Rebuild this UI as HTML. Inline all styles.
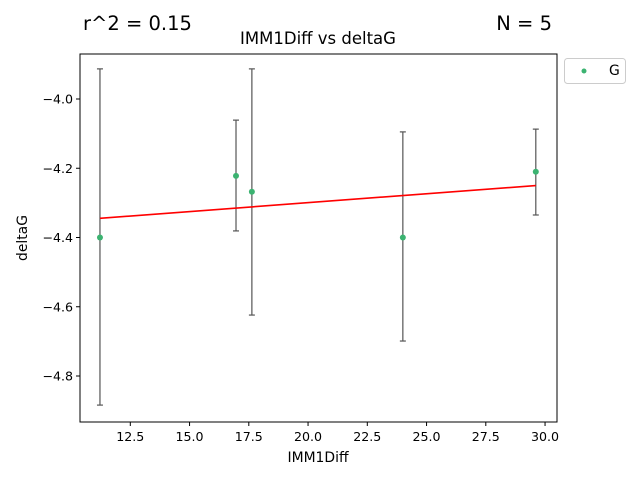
<!DOCTYPE html>
<html><head><meta charset="utf-8"><style>
body{margin:0;background:#fff;}
svg text{font-family:"DejaVu Sans","Liberation Sans",sans-serif;fill:#000;}
</style></head><body>
<svg id="chart" width="640" height="480" xmlns="http://www.w3.org/2000/svg">
<rect width="640" height="480" fill="#fff"/>
<g id="errs"></g><g id="fit"></g><g id="pts"></g>
<rect x="80" y="54" width="477" height="368" fill="none" stroke="#000" stroke-width="1"/>
<g id="xt"></g><g id="yt"></g>
<text x="318" y="44" font-size="16.5" text-anchor="middle">IMM1Diff vs deltaG</text>
<text x="83" y="30" font-size="19.5">r^2 = 0.15</text>
<text x="552" y="30" font-size="19.5" text-anchor="end">N = 5</text>
<text x="318" y="462" font-size="13.9" text-anchor="middle">IMM1Diff</text>
<text x="27" y="238" font-size="13.9" text-anchor="middle" transform="rotate(-90 27 238)">deltaG</text>
<g>
<rect x="564.5" y="58.5" width="61" height="25" rx="3" fill="#fff" stroke="#ccc"/>
<circle cx="584" cy="71" r="2.5" fill="#3cb371"/>
<text x="609" y="75" font-size="13.9">G</text>
</g>
</svg>
<script>
const xs=[11.22,16.96,17.63,24.0,29.61];
const ys=[-4.40,-4.222,-4.268,-4.40,-4.21];
const errTop=[-3.913,-4.061,-3.913,-4.095,-4.087];
const errBot=[-4.884,-4.381,-4.624,-4.699,-4.335];
const xTicks=[12.5,15.0,17.5,20.0,22.5,25.0,27.5,30.0];
const yTicks=[-4.0,-4.2,-4.4,-4.6,-4.8];
const NS="http://www.w3.org/2000/svg";
function X(v){return 130.3+(v-12.5)*23.7;}
function Y(v){return 99+(-4.0-v)*346.25;}
function mk(tag,a,p){const e=document.createElementNS(NS,tag);for(const k in a)e.setAttribute(k,a[k]);p.appendChild(e);return e;}
const xt=document.getElementById('xt'),yt=document.getElementById('yt');
xTicks.forEach(t=>{const x=X(t);
 const l=mk('line',{x1:x,x2:x,y1:422,y2:426,stroke:'#000'},xt);
 
 
 const tx=mk('text',{x:x,y:441,'font-size':12.6,'text-anchor':'middle'},xt);tx.textContent=t.toFixed(1);
 
 });
yTicks.forEach(t=>{const y=Y(t);
 const l=mk('line',{x1:76,x2:80,y1:y,y2:y,stroke:'#000'},yt);
 
 
 const tx=mk('text',{x:73,y:y+4.5,'font-size':12.6,'text-anchor':'end'},yt);tx.textContent='\u2212'+Math.abs(t).toFixed(1);
 
 });
const eg=document.getElementById('errs'),pg=document.getElementById('pts'),fg=document.getElementById('fit');
xs.forEach((xv,i)=>{const x=X(xv),t=Y(errTop[i]),b=Y(errBot[i]);
 const g=mk('g',{stroke:'#555','stroke-width':1.2},eg);
 
 
 mk('line',{x1:x,x2:x,y1:t,y2:b},g);mk('line',{x1:x-3,x2:x+3,y1:t,y2:t},g);mk('line',{x1:x-3,x2:x+3,y1:b,y2:b},g);});
const n=xs.length,mx=xs.reduce((a,b)=>a+b)/n,my=ys.reduce((a,b)=>a+b)/n;
let sxy=0,sxx=0;xs.forEach((x,i)=>{sxy+=(x-mx)*(ys[i]-my);sxx+=(x-mx)**2;});
const s=sxy/sxx,x0=Math.min(...xs),x1=Math.max(...xs);
const fl=mk('line',{x1:X(x0),y1:Y(my+s*(x0-mx)),x2:X(x1),y2:Y(my+s*(x1-mx)),stroke:'#ff0000','stroke-width':1.6},fg);


xs.forEach((xv,i)=>{const c=mk('circle',{cx:X(xv),cy:Y(ys[i]),r:3,fill:'#3cb371'},pg);
 
 });
</script>
</body></html>
